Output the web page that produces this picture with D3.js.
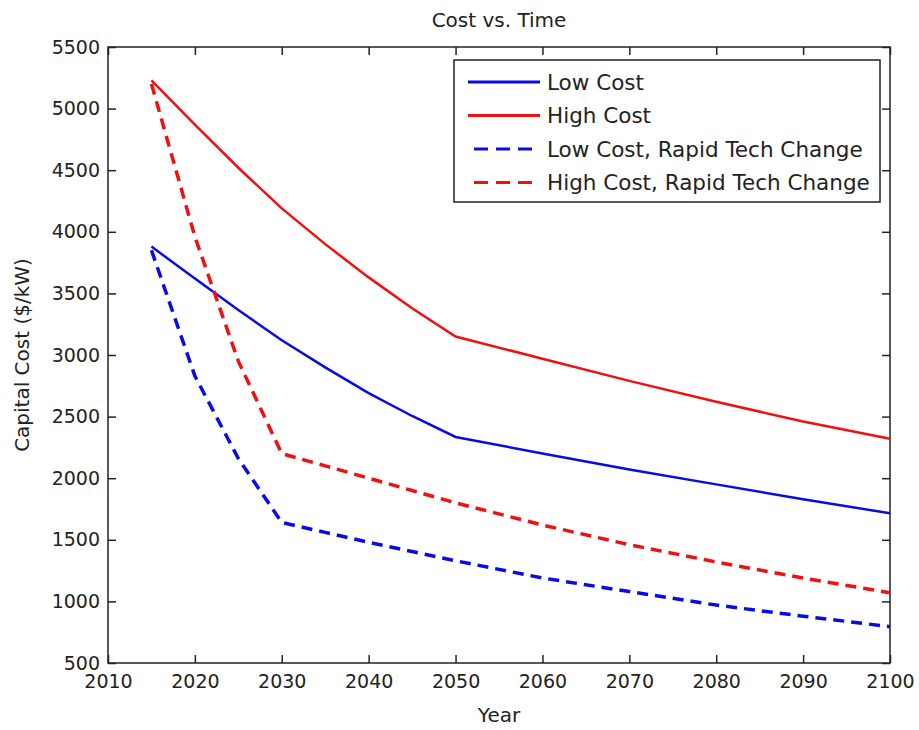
<!DOCTYPE html>
<html>
<head>
<meta charset="utf-8">
<script src="https://cdn.jsdelivr.net/npm/d3@7"></script>
<style>
  body { margin: 0; background: #fff; }
  text { font-family: "DejaVu Sans", Verdana, sans-serif; fill: #222; }
</style>
</head>
<body>
<div id="chart"></div>
<script>
// data
var years = [2015, 2020, 2025, 2030, 2035, 2040, 2045, 2050, 2060, 2070, 2080, 2090, 2100];
var lowCost = [3880, 3620, 3365, 3120, 2900, 2690, 2505, 2335, 2200, 2070, 1950, 1830, 1715];
var highCost = [5230, 4870, 4520, 4190, 3900, 3630, 3380, 3150, 2970, 2790, 2620, 2460, 2320];
var lowRapid = [3850, 2830, 2160, 1640, 1560, 1480, 1405, 1330, 1190, 1080, 970, 880, 795];
var highRapid = [5200, 3960, 2950, 2200, 2100, 2000, 1900, 1800, 1620, 1460, 1320, 1190, 1070];
var seriesNames = ["Low Cost", "High Cost", "Low Cost, Rapid Tech Change", "High Cost, Rapid Tech Change"];
var xTicks = [2010, 2020, 2030, 2040, 2050, 2060, 2070, 2080, 2090, 2100];
var yTicks = [500, 1000, 1500, 2000, 2500, 3000, 3500, 4000, 4500, 5000, 5500];

var series = [
  {name: seriesNames[0], values: lowCost, color: "#0a0ae6", dash: null, width: 2.5},
  {name: seriesNames[1], values: highCost, color: "#f01010", dash: null, width: 2.5},
  {name: seriesNames[2], values: lowRapid, color: "#0a0ae6", dash: "11,7", width: 3.5},
  {name: seriesNames[3], values: highRapid, color: "#f01010", dash: "11,7", width: 3.5}
];

var margin = {top: 47, right: 29, bottom: 67, left: 108},
    width = 919 - margin.left - margin.right,
    height = 730 - margin.top - margin.bottom;

var svg = d3.select("#chart")
  .append("svg")
    .attr("width", 919)
    .attr("height", 730)
  .append("g")
    .attr("transform", "translate(" + margin.left + "," + margin.top + ")");

var x = d3.scaleLinear().domain([2010, 2100]).range([0, width]);
var y = d3.scaleLinear().domain([500, 5500]).range([height, 0]);

// axes box with inward ticks on all sides
var tick = 8;
svg.append("rect")
  .attr("width", width).attr("height", height)
  .attr("fill", "none").attr("stroke", "#222").attr("stroke-width", 1.5);

function styleAxis(g) {
  g.select(".domain").remove();
  g.selectAll("line").attr("stroke", "#222").attr("stroke-width", 1.5);
  g.selectAll("text").style("font-size", "19px").attr("fill", "#222");
}

svg.append("g")
  .attr("transform", "translate(0," + height + ")")
  .call(d3.axisBottom(x).tickValues(xTicks).tickFormat(d3.format("d"))
    .tickSizeInner(-tick).tickSizeOuter(0).tickPadding(12))
  .call(styleAxis);

svg.append("g")
  .call(d3.axisTop(x).tickValues(xTicks).tickFormat("").tickSizeInner(-tick).tickSizeOuter(0))
  .call(styleAxis);

svg.append("g")
  .call(d3.axisLeft(y).tickValues(yTicks).tickFormat(d3.format("d"))
    .tickSizeInner(-tick).tickSizeOuter(0).tickPadding(8))
  .call(styleAxis);

svg.append("g")
  .attr("transform", "translate(" + width + ",0)")
  .call(d3.axisRight(y).tickValues(yTicks).tickFormat("").tickSizeInner(-tick).tickSizeOuter(0))
  .call(styleAxis);

// lines
var line = d3.line()
  .x(function(d, i) { return x(years[i]); })
  .y(function(d) { return y(d); });

svg.selectAll(".series")
  .data(series)
  .enter()
  .append("path")
    .attr("class", "series")
    .attr("d", function(d) { return line(d.values); })
    .attr("fill", "none")
    .attr("stroke", function(d) { return d.color; })
    .attr("stroke-width", function(d) { return d.width; })
    .attr("stroke-dasharray", function(d) { return d.dash; });

// title and labels
svg.append("text")
  .attr("x", width / 2).attr("y", -27).attr("dy", "0.35em")
  .attr("text-anchor", "middle")
  .style("font-size", "20px")
  .text("Cost vs. Time");

svg.append("text")
  .attr("x", width / 2).attr("y", height + 52).attr("dy", "0.35em")
  .attr("text-anchor", "middle")
  .style("font-size", "20px")
  .text("Year");

svg.append("text")
  .attr("transform", "translate(-86," + (height / 2) + ") rotate(-90)")
  .attr("text-anchor", "middle").attr("dy", "0.35em")
  .style("font-size", "20px")
  .text("Capital Cost ($/kW)");

// legend
var legend = svg.append("g").attr("transform", "translate(346,13)");
legend.append("rect")
  .attr("width", 426).attr("height", 142)
  .attr("fill", "#fff").attr("stroke", "#222").attr("stroke-width", 1.5);

var item = legend.selectAll(".item")
  .data(series)
  .enter()
  .append("g")
    .attr("class", "item")
    .attr("transform", function(d, i) { return "translate(0," + (22 + i * 33.5) + ")"; });

item.append("line")
  .attr("x1", function(d) { return d.dash ? 20 : 14; }).attr("x2", 86)
  .attr("stroke", function(d) { return d.color; })
  .attr("stroke-width", 3)
  .attr("stroke-dasharray", function(d) { return d.dash ? "14,8" : null; });

item.append("text")
  .attr("x", 93).attr("dy", "0.35em")
  .style("font-size", "21.5px")
  .text(function(d) { return d.name; });
</script>
</body>
</html>
